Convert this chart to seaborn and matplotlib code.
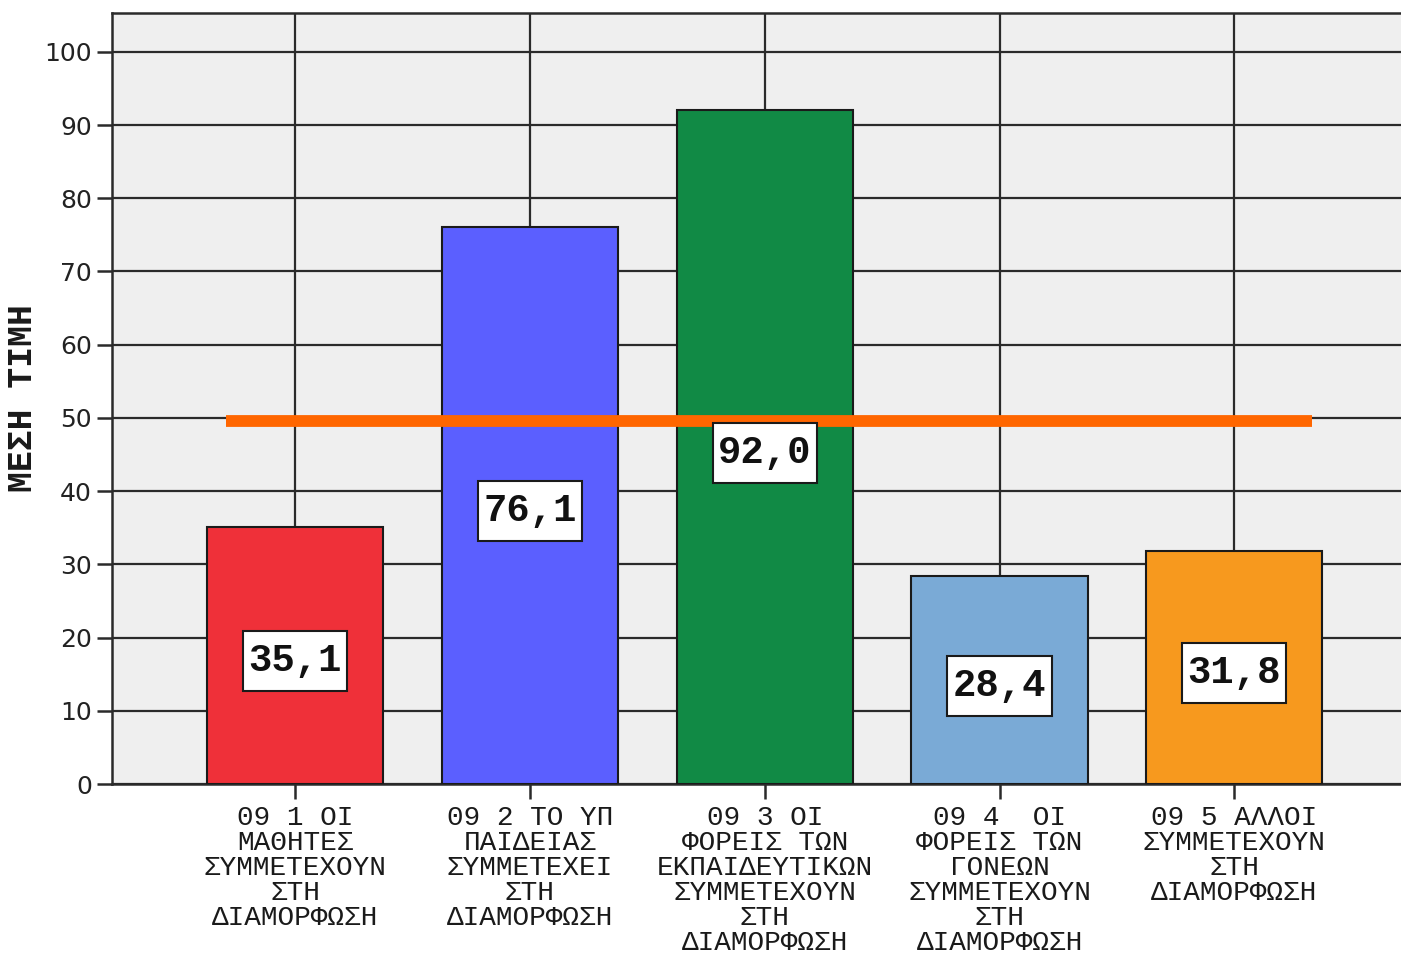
import matplotlib
matplotlib.use("Agg")
import matplotlib.pyplot as plt
import matplotlib.transforms as mtransforms
from matplotlib.path import Path
import seaborn as sns
import pandas as pd

categories = [
    "09 1 ΟΙ\nΜΑΘΗΤΕΣ\nΣΥΜΜΕΤΕΧΟΥΝ\nΣΤΗ\nΔΙΑΜΟΡΦΩΣΗ",
    "09 2 ΤΟ ΥΠ\nΠΑΙΔΕΙΑΣ\nΣΥΜΜΕΤΕΧΕΙ\nΣΤΗ\nΔΙΑΜΟΡΦΩΣΗ",
    "09 3 ΟΙ\nΦΟΡΕΙΣ ΤΩΝ\nΕΚΠΑΙΔΕΥΤΙΚΩΝ\nΣΥΜΜΕΤΕΧΟΥΝ\nΣΤΗ\nΔΙΑΜΟΡΦΩΣΗ",
    "09 4  ΟΙ\nΦΟΡΕΙΣ ΤΩΝ\nΓΟΝΕΩΝ\nΣΥΜΜΕΤΕΧΟΥΝ\nΣΤΗ\nΔΙΑΜΟΡΦΩΣΗ",
    "09 5 ΑΛΛΟΙ\nΣΥΜΜΕΤΕΧΟΥΝ\nΣΤΗ\nΔΙΑΜΟΡΦΩΣΗ",
]
values = [35.1, 76.1, 92.0, 28.4, 31.8]
bar_colors = ["#EF3039", "#5B5FFF", "#118A45", "#7AAAD6", "#F7991E"]
y_ticks = [0, 10, 20, 30, 40, 50, 60, 70, 80, 90, 100]
reference_value = 50
y_label = "ΜΕΣΗ ΤΙΜΗ"

mono = ["Liberation Mono", "DejaVu Sans Mono"]

sns.set_style("white")
plt.rcParams["font.family"] = ["DejaVu Sans"]

df = pd.DataFrame({"cat": categories, "val": values})

fig = plt.figure(figsize=(14.01, 9.57), dpi=100)
ax = fig.add_axes([112 / 1401, 1 - 784 / 957, 1 - 112 / 1401, (784 - 13) / 957])
ax.set_facecolor("#EFEFEF")

sns.barplot(data=df, x="cat", y="val", hue="cat", palette=bar_colors,
            legend=False, width=0.75, edgecolor="#1a1a1a", linewidth=1.5,
            saturation=1, ax=ax, zorder=3)

ax.set_xlim(-0.78, 4.71)
ax.set_ylim(0, 105.3)
ax.set_yticks(y_ticks)
ax.set_xticks(range(len(categories)))
ax.grid(True, which="major", axis="both", color="#2a2a2a", linewidth=1.6, zorder=0)
ax.set_axisbelow(True)

for s in ["left", "top", "bottom"]:
    ax.spines[s].set_visible(True)
    ax.spines[s].set_color("#2a2a2a")
    ax.spines[s].set_linewidth(1.8)
ax.spines["right"].set_visible(False)

ax.tick_params(axis="y", direction="out", length=11, width=1.8, color="#2a2a2a",
               pad=3.5, labelsize=18, labelcolor="#222222", left=True)
ax.tick_params(axis="x", direction="out", length=11, width=1.8, color="#2a2a2a",
               pad=4, bottom=True)
ax.set_xticklabels(categories, fontfamily=mono, fontsize=20,
                   linespacing=0.955, color="#1a1a1a", ha="center", va="top")

ax.set_xlabel("")
ax.set_ylabel(y_label, fontfamily=mono, fontweight="bold", fontsize=25, color="#1a1a1a")
ax.yaxis.set_label_coords(-0.0566, 0.5)

# reference line (slightly offset downward as in the original rendering)
line_tr = mtransforms.offset_copy(ax.transData, fig=fig, x=0, y=-3, units="dots")
ax.plot([-0.294, 4.332], [reference_value, reference_value], color="#FF6600",
        linewidth=8.5, solid_capstyle="butt", zorder=5, transform=line_tr)


def label_box(x0, y0, width, height, mutation_size):
    px = mutation_size * 0.14
    py = mutation_size * 0.31
    x0 -= px
    y0 -= py
    x1 = x0 + width + 2 * px
    y1 = y0 + height + 2 * py
    return Path([(x0, y0), (x1, y0), (x1, y1), (x0, y1), (x0, y0)], closed=True)


for i, v in enumerate(values):
    ax.text(i, v / 2 - 0.8, f"{v:.1f}".replace(".", ","), ha="center", va="center",
            fontfamily=mono, fontweight="bold", fontsize=28, color="#111111",
            zorder=6,
            bbox=dict(boxstyle=label_box, facecolor="white",
                      edgecolor="#1a1a1a", linewidth=1.5))

fig.savefig("out.png", dpi=100, facecolor="white")
